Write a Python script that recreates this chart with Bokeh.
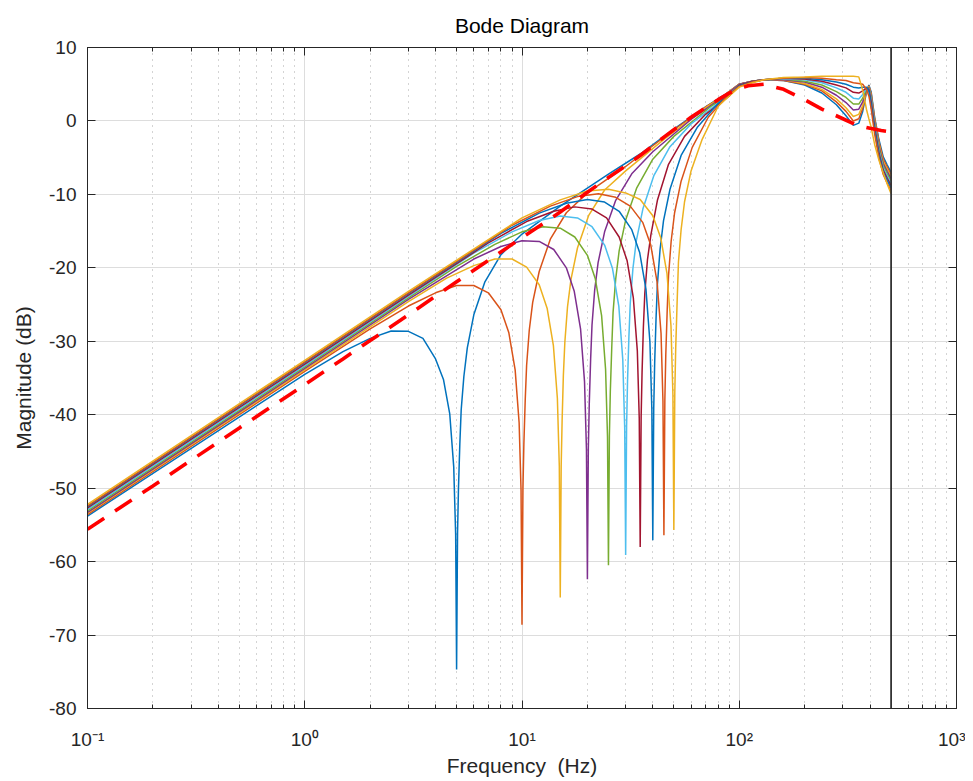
from bokeh.plotting import figure
from bokeh.models import FixedTicker, Span, LinearAxis, LogAxis, Range1d, CustomJSTickFormatter
from bokeh.embed import file_html
from bokeh.resources import INLINE

# ---------------- data ----------------
notch_hz = [5, 10, 15, 20, 25, 30, 35, 40, 45, 50]
colors = ["#0072BD", "#D95319", "#EDB120", "#7E2F8E", "#77AC30",
          "#4DBEEE", "#A2142F", "#0072BD", "#D95319", "#EDB120"]

# low / mid frequency part of every curve (Hz, dB)
f_c5 = [0.1, 1, 1.5, 2, 2.5, 3, 3.5, 4, 4.35, 4.65, 4.85, 4.95, 5, 5.05, 5.1, 5.175, 5.25, 5.4, 5.6, 6, 6.75, 8, 10, 15, 25, 35, 50, 70, 85]
db_c5 = [-53.8, -34.5, -31.4, -29.6, -28.6, -28.65, -29.6, -32.4, -35.2, -39.9, -47.1, -56.3, -74.7, -56.1, -50.0, -43.9, -39.3, -34.8, -30.9, -26.4, -21.9, -18.2, -15.4, -11.6, -7.25, -4.5, -1.1, 1.9, 3.5]

f_c10 = [0.1, 1, 2, 3, 4, 5, 6, 7, 8, 8.7, 9.3, 9.7, 9.9, 10, 10.1, 10.2, 10.35, 10.5, 10.8, 11.2, 12, 13.5, 16, 20, 30, 50, 70, 85]
db_c10 = [-53.6, -34.1, -28.3, -25.2, -23.4, -22.4, -22.4, -23.4, -25.7, -28.85, -33.9, -41.1, -50.3, -68.6, -50.1, -44.0, -37.9, -33.3, -28.5, -24.7, -20.5, -16.1, -12.5, -9.8, -6.2, -1.2, 1.9, 3.45]

f_c15 = [0.1, 1, 3, 4.5, 6, 7.5, 9, 10.5, 12, 13.05, 13.95, 14.55, 14.85, 15, 15.15, 15.3, 15.5, 15.75, 16.2, 16.8, 18, 20.25, 24, 30, 45, 70, 85]
db_c15 = [-53.4, -33.9, -24.6, -21.4, -19.7, -18.8, -18.8, -19.9, -22.3, -25.5, -30.6, -37.8, -47.0, -64.9, -46.9, -40.8, -34.7, -30.1, -25.3, -21.6, -17.3, -12.9, -9.4, -6.8, -2.5, 1.8, 3.45]

f_c20 = [0.1, 1, 3, 4, 6, 8, 10, 12, 14, 16, 17.4, 18.6, 19.4, 19.8, 20, 20.2, 20.4, 20.7, 21, 21.6, 22.4, 24, 27, 32, 40, 60, 85]
db_c20 = [-53.3, -33.7, -24.3, -22.0, -18.8, -17.1, -16.3, -16.4, -17.5, -20.0, -23.2, -28.3, -35.5, -44.7, -62.4, -44.6, -38.5, -32.4, -27.8, -23.05, -19.3, -15.1, -10.8, -7.2, -4.2, 0.2, 3.35]

f_c25 = [0.1, 1, 3, 5, 7.5, 10, 12.5, 15, 17.5, 20, 21.75, 23.25, 24.25, 24.75, 25, 25.25, 25.5, 25.9, 26.25, 27, 28, 30, 33.75, 40, 50, 75, 90]
db_c25 = [-53.1, -33.5, -24.1, -19.8, -16.8, -15.1, -14.4, -14.6, -15.8, -18.3, -21.5, -26.5, -33.8, -43.0, -60.5, -42.9, -36.8, -30.7, -26.1, -21.5, -17.7, -13.5, -9.1, -5.2, -2.1, 2.1, 3.6]

f_c30 = [0.1, 1, 3, 6, 9, 12, 15, 18, 21, 24, 26.1, 27.9, 29.1, 29.7, 30, 30.3, 30.6, 31.05, 31.5, 32.4, 33.6, 36, 40.5, 48, 60, 75, 90]
db_c30 = [-52.9, -33.3, -23.9, -18.0, -15.1, -13.55, -12.95, -13.2, -14.4, -16.9, -20.1, -25.2, -32.5, -41.8, -59.1, -41.6, -35.5, -29.4, -24.8, -20.1, -16.3, -12.0, -7.4, -3.5, -0.4, 1.8, 3.5]

f_c35 = [0.1, 1, 3, 7, 10.5, 14, 17.5, 21, 24.5, 28, 30.45, 32.55, 33.95, 34.65, 35, 35.35, 35.7, 36.2, 36.75, 37.8, 39.2, 42, 47.25, 56, 70, 90]
db_c35 = [-52.7, -33.1, -23.7, -16.6, -13.7, -12.3, -11.7, -12.0, -13.2, -15.8, -19.0, -24.1, -31.3, -40.5, -58.0, -40.3, -34.2, -28.1, -23.5, -18.9, -15.5, -10.8, -5.9, -2.1, 0.9, 3.4]

f_c40 = [0.1, 1, 3, 8, 12, 16, 20, 24, 28, 32, 34.8, 37.2, 38.8, 39.6, 40, 40.4, 40.8, 41.4, 42, 43.2, 44.8, 48, 54, 64, 80, 95]
db_c40 = [-52.5, -32.9, -23.5, -15.3, -12.55, -11.2, -10.7, -11.05, -12.3, -14.8, -17.9, -22.9, -30.1, -39.3, -57.1, -39.1, -33.0, -26.9, -22.25, -17.5, -13.6, -9.3, -4.7, -0.9, 2.4, 4.2]

f_c45 = [0.1, 1, 3, 9, 13.5, 18, 22.5, 27, 31.5, 36, 39.15, 41.85, 43.65, 44.55, 45, 45.45, 45.9, 46.6, 47.25, 48.6, 50.4, 54, 60.75, 72, 88]
db_c45 = [-52.4, -32.8, -23.4, -14.2, -11.6, -10.3, -9.9, -10.4, -11.6, -13.85, -16.9, -21.9, -28.9, -38.2, -56.4, -38.0, -31.9, -25.75, -21.1, -16.35, -12.5, -8.2, -3.6, 0.5, 3.4]

f_c50 = [0.1, 1, 3, 10, 15, 20, 25, 30, 35, 40, 43.5, 46.5, 48.5, 49.5, 50, 50.5, 51, 51.75, 52.5, 54, 56, 60, 67.5, 80, 90]
db_c50 = [-52.2, -32.6, -23.2, -13.2, -10.75, -9.55, -9.3, -9.8, -10.7, -12.9, -15.9, -20.8, -27.9, -37.2, -55.7, -37.0, -30.9, -24.8, -19.2, -14.8, -11.0, -6.8, -2.5, 2.0, 3.4]

# high frequency part (common frequency list, one value list per curve)
f_high = [100, 115, 130, 160, 200, 240, 280, 310, 335, 355, 370, 385, 395, 405, 420, 440, 460, 480, 500]
hi_c5 = [5.0, 5.4, 5.6, 5.5, 4.9, 3.8, 2.2, 0.7, -0.6, -0.3, 1.3, 3.9, 4.9, 3.9, 0.5, -2.6, -4.9, -6.0, -7.0]
hi_c10 = [5.0, 5.4, 5.6, 5.5, 5.0, 4.1, 2.6, 1.3, 0.0, 0.3, 1.7, 4.0, 4.8, 3.7, 0.3, -2.9, -5.2, -6.3, -7.3]
hi_c15 = [5.0, 5.4, 5.6, 5.6, 5.1, 4.3, 3.0, 1.8, 0.6, 0.9, 2.1, 4.1, 4.7, 3.5, 0.1, -3.2, -5.5, -6.6, -7.6]
hi_c20 = [5.0, 5.4, 5.6, 5.6, 5.3, 4.6, 3.5, 2.5, 1.5, 1.6, 2.6, 4.2, 4.6, 3.3, -0.1, -3.5, -5.8, -6.9, -7.9]
hi_c25 = [4.9, 5.4, 5.6, 5.7, 5.4, 4.9, 4.0, 3.2, 2.3, 2.3, 3.1, 4.3, 4.5, 3.1, -0.3, -3.8, -6.1, -7.2, -8.2]
hi_c30 = [4.9, 5.4, 5.6, 5.7, 5.6, 5.2, 4.5, 3.9, 3.1, 3.0, 3.6, 4.4, 4.4, 2.9, -0.5, -4.1, -6.4, -7.5, -8.5]
hi_c35 = [4.9, 5.4, 5.6, 5.8, 5.7, 5.4, 4.9, 4.5, 3.9, 3.8, 4.1, 4.5, 4.3, 2.6, -0.8, -4.4, -6.7, -7.8, -8.8]
hi_c40 = [4.8, 5.3, 5.6, 5.8, 5.8, 5.6, 5.3, 5.0, 4.6, 4.5, 4.6, 4.6, 4.1, 2.2, -1.2, -4.7, -7.0, -8.1, -9.1]
hi_c45 = [4.7, 5.3, 5.6, 5.8, 5.9, 5.8, 5.6, 5.5, 5.2, 5.1, 5.0, 4.3, 3.4, 1.6, -1.8, -5.1, -7.3, -8.5, -9.5]
hi_c50 = [4.6, 5.2, 5.6, 5.9, 6.0, 6.1, 6.1, 6.1, 6.1, 6.0, 4.2, 1.6, 0.3, -0.9, -3.2, -5.4, -7.1, -8.6, -9.9]

# reference response (red dashed)
f_red = [0.1, 0.2, 0.5, 1, 1.5, 2, 3, 5, 7, 10, 15, 20, 25, 30, 35, 40, 45, 50, 60, 70, 80, 90, 100, 110, 130, 160, 200, 240, 300, 350, 400, 450, 500]
db_red = [-55.6, -49.7, -41.8, -35.9, -32.4, -29.9, -26.4, -21.9, -19.0, -15.9, -12.4, -9.7, -7.7, -6.1, -4.7, -3.4, -2.2, -1.2, 0.5, 1.8, 2.9, 3.8, 4.4, 4.8, 5.0, 4.3, 2.9, 1.6, 0.3, -0.6, -1.0, -1.3, -1.5]

nyquist_hz = 500

x_major = [0.1, 1, 10, 100, 1000]
x_major_labels = ["10\u207b\u00b9", "10\u2070", "10\u00b9", "10\u00b2", "10\u00b3"]
y_major = [-80, -70, -60, -50, -40, -30, -20, -10, 0, 10]
y_major_labels = ["-80", "-70", "-60", "-50", "-40", "-30", "-20", "-10", "0", "10"]

low_parts = [(f_c5, db_c5), (f_c10, db_c10), (f_c15, db_c15), (f_c20, db_c20), (f_c25, db_c25),
             (f_c30, db_c30), (f_c35, db_c35), (f_c40, db_c40), (f_c45, db_c45), (f_c50, db_c50)]
high_parts = [hi_c5, hi_c10, hi_c15, hi_c20, hi_c25, hi_c30, hi_c35, hi_c40, hi_c45, hi_c50]

# ---------------- figure ----------------
FONT = "Liberation Sans"
TXT = "#262626"

p = figure(width=965, height=779, x_axis_type="log",
           x_range=Range1d(0.1, 1000), y_range=Range1d(-80, 10),
           output_backend="svg", toolbar_location=None, title="Bode Diagram",
           min_border_left=87, min_border_right=9, min_border_top=47, min_border_bottom=69)

p.background_fill_color = "white"
p.border_fill_color = "white"
p.outline_line_color = TXT
p.outline_line_width = 1

p.title.align = "center"
p.title.text_font = FONT
p.title.text_font_size = "21px"
p.title.text_font_style = "normal"
p.title.text_color = "#000000"
p.title.standoff = 22

minor = [m * 10.0 ** e for e in range(-1, 3) for m in range(2, 10)]
p.xaxis.ticker = FixedTicker(ticks=x_major, minor_ticks=minor)
p.xaxis.major_label_overrides = {t: s for t, s in zip(x_major, x_major_labels)}
p.yaxis.ticker = FixedTicker(ticks=y_major)
p.yaxis.major_label_overrides = {t: s for t, s in zip(y_major, y_major_labels)}

p.xaxis.axis_label = "Frequency \u00a0(Hz)"
p.yaxis.axis_label = "Magnitude (dB)"

for ax in [p.xaxis[0], p.yaxis[0]]:
    ax.axis_line_color = TXT
    ax.major_tick_line_color = TXT
    ax.minor_tick_line_color = TXT
    ax.major_tick_in = 8
    ax.major_tick_out = 0
    ax.minor_tick_in = 4
    ax.minor_tick_out = 0
    ax.major_label_text_font = FONT
    ax.major_label_text_font_size = "19px"
    ax.major_label_text_color = TXT
    ax.axis_label_text_font = FONT
    ax.axis_label_text_font_size = "21px"
    ax.axis_label_text_font_style = "normal"
    ax.axis_label_text_color = TXT

p.xaxis.major_label_standoff = 20
p.xaxis.axis_label_standoff = 1
p.yaxis.major_label_standoff = 11
p.yaxis.axis_label_standoff = 11

# box ticks on top and right
top_ax = LogAxis(ticker=FixedTicker(ticks=x_major, minor_ticks=minor),
                 formatter=CustomJSTickFormatter(code="return ''"))
right_ax = LinearAxis(ticker=FixedTicker(ticks=y_major),
                      formatter=CustomJSTickFormatter(code="return ''"))
for ax in [top_ax, right_ax]:
    ax.axis_line_color = TXT
    ax.major_tick_line_color = TXT
    ax.minor_tick_line_color = TXT
    ax.major_tick_in = 8
    ax.major_tick_out = 0
    ax.minor_tick_in = 4
    ax.minor_tick_out = 0
    ax.major_label_text_font_size = "0px"
    ax.major_label_standoff = 0
p.add_layout(top_ax, "above")
p.add_layout(right_ax, "right")

# grids
for g in [p.xgrid[0], p.ygrid[0]]:
    g.grid_line_color = "#dddddd"
    g.grid_line_width = 1
p.xgrid.minor_grid_line_color = "#a9a9a9"
p.xgrid.minor_grid_line_dash = "1 5"
p.xgrid.minor_grid_line_width = 1

# curves
for (fl, dl), dh, col in zip(low_parts, high_parts, colors):
    p.line(fl + f_high, dl + dh, line_color=col, line_width=1.5)

p.line(f_red, db_red, line_color="#ff0000", line_width=3.6, line_dash="20 13")

p.add_layout(Span(location=nyquist_hz, dimension="height", line_color="#333333", line_width=1.8))

open("out.html", "w").write(file_html(p, INLINE))
